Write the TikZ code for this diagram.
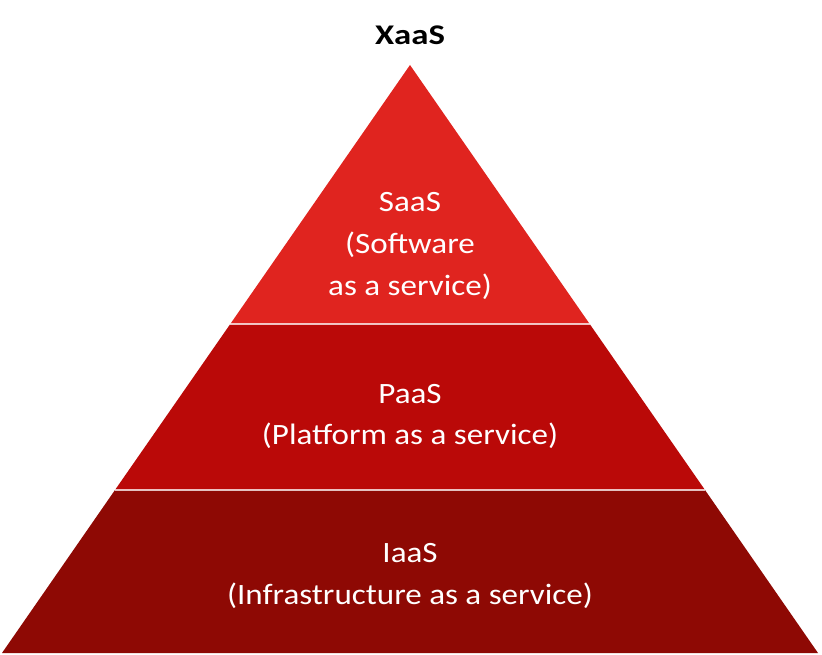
\documentclass[tikz,border=0pt]{standalone}
\usepackage{fontspec}
\setmainfont{Carlito}
\definecolor{topred}{HTML}{E0241F}
\definecolor{midred}{HTML}{BA0908}
\definecolor{botred}{HTML}{8E0904}
\begin{document}
\begin{tikzpicture}[x=1pt,y=1pt,
  lbl/.style={text=white,font=\fontsize{29.5}{35}\selectfont,anchor=base,inner sep=0pt,xscale=1.12},
  sep/.style={draw=white,opacity=0.75,line width=1.3pt}]
\useasboundingbox (0,0) rectangle (822,654);
% coordinates: y = 654 - pixel y
\coordinate (apex) at (410,589);
\coordinate (l1) at (230.3,330);
\coordinate (r1) at (589.7,330);
\coordinate (l2) at (115,164);
\coordinate (r2) at (705,164);
\coordinate (l3) at (2,1);
\coordinate (r3) at (818,1);
\fill[topred] (apex) -- (r1) -- (l1) -- cycle;
\fill[midred] (l1) -- (r1) -- (r2) -- (l2) -- cycle;
\fill[botred] (l2) -- (r2) -- (r3) -- (l3) -- cycle;
\draw[sep] (l1) -- (r1);
\draw[sep] (l2) -- (r2);
\node[anchor=base,inner sep=0pt,xscale=1.22,font=\fontsize{28.5}{35}\selectfont\bfseries] (title) at (410,609) {XaaS};
\node[lbl] (s1) at (410,442) {SaaS};
\node[lbl] (s2) at (410,400) {(Software};
\node[lbl] (s3) at (410,358) {as a service)};
\node[lbl] (p1) at (410,251) {PaaS};
\node[lbl] (p2) at (410,209) {(Platform as a service)};
\node[lbl] (i1) at (410,92) {IaaS};
\node[lbl] (i2) at (410,50) {(Infrastructure as a service)};
\end{tikzpicture}
\end{document}
